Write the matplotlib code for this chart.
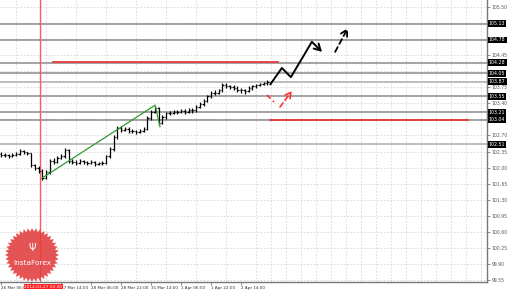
import numpy as np
import matplotlib
matplotlib.use("Agg")
import matplotlib.pyplot as plt

# ---------------- data ----------------
close = [102.28,102.27,102.26,102.28,102.30,102.37,102.33,102.31,102.05,102.00,101.92,101.78,
         101.90,102.15,102.12,102.22,102.25,102.38,102.15,102.12,102.10,102.14,102.12,102.10,
         102.12,102.08,102.10,102.10,102.25,102.40,102.67,102.86,102.82,102.85,102.80,102.80,
         102.78,102.80,102.85,103.08,103.22,103.30,102.98,103.10,103.18,103.20,103.22,103.21,
         103.24,103.22,103.26,103.25,103.32,103.38,103.45,103.55,103.63,103.63,103.68,103.80,
         103.78,103.76,103.74,103.70,103.68,103.66,103.74,103.78,103.80,103.82,103.84,103.87]
high = [102.33,102.31,102.30,102.31,102.34,102.41,102.39,102.35,102.32,102.09,102.04,101.96,
        101.95,102.19,102.20,102.26,102.30,102.42,102.40,102.19,102.16,102.18,102.17,102.15,
        102.16,102.14,102.13,102.15,102.28,102.44,102.70,102.90,102.90,102.89,102.88,102.84,
        102.83,102.84,102.89,103.12,103.26,103.35,103.32,103.14,103.22,103.24,103.26,103.26,
        103.28,103.27,103.30,103.30,103.36,103.42,103.49,103.59,103.67,103.68,103.72,103.84,
        103.84,103.81,103.79,103.77,103.73,103.71,103.77,103.81,103.83,103.85,103.87,103.90]
low = [102.24,102.23,102.22,102.24,102.26,102.28,102.30,102.27,102.01,101.95,101.88,101.74,
       101.76,101.87,102.08,102.10,102.19,102.22,102.11,102.07,102.05,102.07,102.08,102.05,
       102.07,102.03,102.05,102.06,102.08,102.22,102.37,102.63,102.78,102.79,102.75,102.76,
       102.73,102.75,102.77,102.82,103.04,103.18,102.92,102.94,103.06,103.14,103.17,103.16,
       103.18,103.17,103.19,103.20,103.22,103.29,103.35,103.42,103.51,103.58,103.60,103.65,
       103.73,103.71,103.69,103.65,103.63,103.61,103.64,103.70,103.74,103.77,103.79,103.81]
first_open = 102.30

y_ticks = [99.55, 99.90, 100.25, 100.60, 100.95, 101.30, 101.65, 102.00, 102.35, 102.70,
           103.05, 103.40, 103.75, 104.10, 104.45, 104.80, 105.15, 105.50]
hidden_y_ticks = [103.05, 104.10, 104.80, 105.15]   # covered by level labels
x_tick_labels = ["26 Mar 06:00", "", "27 Mar 14:00", "28 Mar 06:00", "28 Mar 22:00",
                 "31 Mar 14:00", "1 Apr 06:00", "1 Apr 22:00", "2 Apr 14:00"]
levels = [105.13, 104.78, 104.28, 104.05, 103.87, 103.55, 103.21, 103.04, 102.51]
level_labels = ["105.13", "104.78", "104.28", "104.05", "103.87", "103.55", "103.21", "103.04", "102.51"]
light_levels = [103.87, 102.51]

marker_bar = 10.3          # 2014.03.27 02:00
marker_label = "2014.03.27 02:00"

red_level_1 = (104.30, 13.9, 73.9)
red_level_2 = (103.04, 71.7, 124.5)
green_x = [10.9, 41.1, 42.4]
green_y = [101.77, 103.36, 102.89]

black_path_x = [71.7, 74.9, 77.3, 82.9]
black_path_y = [103.80, 104.17, 103.97, 104.74]
black_head = (85.6, 104.52)
black_dash = ((89.1, 104.52), (92.5, 105.04))
red_dash_seg = ((70.9, 103.58), (72.8, 103.43))
red_dash_arrow = ((74.4, 103.32), (77.6, 103.67))

# ---------------- figure ----------------
W, H = 510, 291
fig = plt.figure(figsize=(W/100, H/100), dpi=100)
fig.patch.set_facecolor("white")
ax = fig.add_axes([0, 9/H, 487/W, 282/H])
ax.set_xlim(-0.27, 129.6)
ax.set_ylim(99.51, 105.65)

for s in ["left", "top"]:
    ax.spines[s].set_visible(False)
for s in ["right", "bottom"]:
    ax.spines[s].set_color("#777777")
    ax.spines[s].set_linewidth(1.0)

ax.yaxis.tick_right()
ax.set_yticks(y_ticks)
ax.set_yticklabels(["" if v in hidden_y_ticks else f"{v:.2f}" for v in y_ticks],
                   fontsize=3.3, color="#555555")
ax.tick_params(axis="y", length=2, width=0.6, color="#777777", pad=1.5)

major_x = [8*k for k in range(len(x_tick_labels))]
ax.set_xticks(major_x)
ax.set_xticklabels(x_tick_labels, fontsize=3.0, color="#333333", ha="left")
ax.tick_params(axis="x", length=2, width=0.6, color="#777777", pad=1)
ax.set_xticks(np.arange(0, 130, 4), minor=True)
ax.tick_params(axis="x", which="minor", length=0)

ax.grid(True, axis="x", which="minor", color="#d6d6d6", ls=(0, (2, 2)), lw=0.6)
ax.grid(True, axis="y", which="major", color="#d6d6d6", ls=(0, (2, 2)), lw=0.6)
ax.set_axisbelow(True)

# level lines
for lv, lab in zip(levels, level_labels):
    if lv in light_levels:
        ax.axhline(lv, color="#bdbdbd", lw=1.4, zorder=1)
    else:
        ax.axhline(lv, color="#8a8a8a", lw=1.1, zorder=1)
    ax.text(1.004, lv, lab, transform=ax.get_yaxis_transform(), fontsize=3.4, color="white",
            va="center", ha="left", clip_on=False, zorder=10,
            bbox=dict(boxstyle="square,pad=0.2", fc="black", ec="black", lw=0))

# vertical marker
ax.axvline(marker_bar, color="#ff5a5a", lw=1.0, zorder=2)

# OHLC bars
opens = [first_open] + close[:-1]
xs = np.arange(len(close))
ax.vlines(xs, low, high, color="black", lw=0.9, zorder=4)
ax.hlines(opens, xs - 0.35, xs, color="black", lw=0.9, zorder=4)
ax.hlines(close, xs, xs + 0.35, color="black", lw=0.9, zorder=4)

# red levels
ax.plot([red_level_1[1], red_level_1[2]], [red_level_1[0]]*2, color="#e83a3a", lw=1.3, zorder=3)
ax.plot([red_level_2[1], red_level_2[2]], [red_level_2[0]]*2, color="#e83a3a", lw=1.3, zorder=3)

# green trend line
ax.plot(green_x, green_y, color="#2f9a2f", lw=0.9, zorder=5)

# black forecast path
ax.plot(black_path_x, black_path_y, color="black", lw=1.4, zorder=6, solid_capstyle="butt")
ax.annotate("", xy=black_head, xytext=(black_path_x[-1], black_path_y[-1]),
            arrowprops=dict(arrowstyle="->,head_length=0.45,head_width=0.25", color="black",
                            lw=1.4, shrinkA=0, shrinkB=0), zorder=6)
ax.annotate("", xy=black_dash[1], xytext=black_dash[0],
            arrowprops=dict(arrowstyle="->,head_length=0.45,head_width=0.25", color="black",
                            lw=1.3, ls=(0, (3, 2)), shrinkA=0, shrinkB=0), zorder=6)

# red alternative
ax.plot([red_dash_seg[0][0], red_dash_seg[1][0]], [red_dash_seg[0][1], red_dash_seg[1][1]],
        color="#ff3030", lw=1.2, ls=(0, (3, 2)), zorder=6)
ax.annotate("", xy=red_dash_arrow[1], xytext=red_dash_arrow[0],
            arrowprops=dict(arrowstyle="->,head_length=0.4,head_width=0.22", color="#ff3030",
                            lw=1.2, ls=(0, (3, 2)), shrinkA=0, shrinkB=0), zorder=6)

# date marker label at bottom
ax.text(marker_bar + 1.0, -0.01, marker_label, transform=ax.get_xaxis_transform(), fontsize=3.1,
        color="white", ha="center", va="top", clip_on=False, zorder=11,
        bbox=dict(boxstyle="square,pad=0.15", fc="#ff2020", ec="#ff2020", lw=0))

# logo (serrated badge)
n = 40
ang = np.linspace(0, 2*np.pi, 2*n, endpoint=False)
rad = np.where(np.arange(2*n) % 2 == 0, 27, 23.5)
cx, cy = 32, 255
px = cx + rad*np.cos(ang)
py = cy + rad*np.sin(ang)
lax = fig.add_axes([0, 0, 1, 1], facecolor="none")
lax.set_xlim(0, W); lax.set_ylim(H, 0); lax.axis("off")
lax.fill(px, py, color="#e23c3c", alpha=0.88, lw=0, zorder=1)
lax.text(cx, 263, "InstaForex", color="white", fontsize=5.3, ha="center", va="center", zorder=2)
lax.text(cx, 248, "Ψ", color="white", fontsize=7, ha="center", va="center", zorder=2)

fig.savefig("out.png", dpi=100)
